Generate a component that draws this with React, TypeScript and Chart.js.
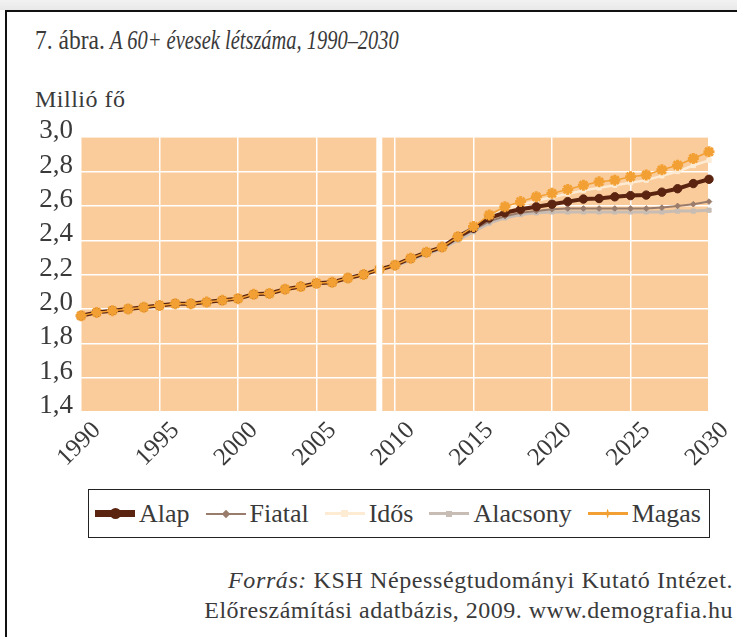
import React, { useEffect, useRef } from "react";
import { Chart, registerables } from "chart.js";

Chart.register(...registerables);

const years = [
  1990, 1991, 1992, 1993, 1994, 1995, 1996, 1997, 1998, 1999,
  2000, 2001, 2002, 2003, 2004, 2005, 2006, 2007, 2008, 2009,
  2010, 2011, 2012, 2013, 2014, 2015, 2016, 2017, 2018, 2019,
  2020, 2021, 2022, 2023, 2024, 2025, 2026, 2027, 2028, 2029, 2030,
];

const alap = [
  1.96, 1.98, 1.99, 2.0, 2.01, 2.02, 2.03, 2.03, 2.04, 2.05,
  2.06, 2.085, 2.09, 2.115, 2.13, 2.15, 2.155, 2.18, 2.2, 2.23,
  2.255, 2.295, 2.33, 2.36, 2.42, 2.47, 2.53, 2.56, 2.58, 2.595,
  2.61, 2.625, 2.64, 2.643, 2.653, 2.66, 2.663, 2.68, 2.7, 2.73, 2.755,
];

const fiatal = [
  1.96, 1.98, 1.99, 2.0, 2.01, 2.02, 2.03, 2.03, 2.04, 2.05,
  2.06, 2.085, 2.09, 2.115, 2.13, 2.15, 2.155, 2.18, 2.2, 2.23,
  2.255, 2.29, 2.325, 2.355, 2.41, 2.46, 2.51, 2.54, 2.56, 2.57,
  2.58, 2.585, 2.585, 2.585, 2.585, 2.585, 2.585, 2.59, 2.6, 2.61, 2.625,
];

const idos = [
  1.96, 1.98, 1.99, 2.0, 2.01, 2.02, 2.03, 2.03, 2.04, 2.05,
  2.06, 2.085, 2.09, 2.115, 2.13, 2.15, 2.155, 2.18, 2.2, 2.23,
  2.255, 2.295, 2.33, 2.36, 2.42, 2.48, 2.54, 2.58, 2.605, 2.63,
  2.65, 2.67, 2.69, 2.705, 2.72, 2.735, 2.75, 2.775, 2.8, 2.835, 2.865,
];

const alacsony = [
  1.96, 1.98, 1.99, 2.0, 2.01, 2.02, 2.03, 2.03, 2.04, 2.05,
  2.06, 2.085, 2.09, 2.115, 2.13, 2.15, 2.155, 2.18, 2.2, 2.23,
  2.25, 2.285, 2.32, 2.35, 2.4, 2.45, 2.5, 2.53, 2.55, 2.56,
  2.565, 2.565, 2.565, 2.565, 2.565, 2.565, 2.565, 2.565, 2.57, 2.57, 2.575,
];

const magas = [
  1.96, 1.98, 1.99, 2.0, 2.01, 2.02, 2.03, 2.03, 2.04, 2.05,
  2.06, 2.085, 2.09, 2.115, 2.13, 2.15, 2.155, 2.18, 2.2, 2.23,
  2.255, 2.295, 2.33, 2.36, 2.42, 2.48, 2.547, 2.595, 2.625, 2.653,
  2.673, 2.696, 2.72, 2.74, 2.75, 2.77, 2.78, 2.81, 2.837, 2.876, 2.915,
];

const seriesNames = ["Alap", "Fiatal", "Idős", "Alacsony", "Magas"];
const gapYear = 2009;

const PEACH = "#FACB9B";
const TEXT = "#3a3a3a";
const FONT = "'Liberation Serif', 'DejaVu Serif', serif";

const COLORS = {
  alap: "#5b2411",
  fiatal: "#9a7c6c",
  idos: "#fdebd4",
  alacsony: "#c7bdb4",
  magas: "#f2a033",
};

const bgPlugin = {
  id: "bgPlugin",
  beforeDraw(chart: any) {
    const { ctx, chartArea } = chart;
    ctx.save();
    ctx.fillStyle = PEACH;
    ctx.fillRect(chartArea.left, chartArea.top, chartArea.right - chartArea.left, chartArea.bottom - chartArea.top);
    ctx.restore();
  },
  afterDatasetsDraw(chart: any) {
    const { ctx, chartArea } = chart;
    const x = chart.scales.x.getPixelForValue(gapYear);
    ctx.save();
    ctx.fillStyle = "#ffffff";
    ctx.fillRect(x - 3, chartArea.top, 6, chartArea.bottom - chartArea.top);
    ctx.restore();
  },
};

function LegendSample({ kind }: { kind: string }) {
  const base: React.CSSProperties = { position: "relative", width: 40, height: 20, display: "inline-block", marginRight: 4 };
  let line: React.CSSProperties = {};
  let mark: React.CSSProperties = {};
  if (kind === "Alap") {
    line = { background: COLORS.alap, height: 7 };
    mark = { background: COLORS.alap, width: 11, height: 11, borderRadius: 6 };
  } else if (kind === "Fiatal") {
    line = { background: COLORS.fiatal, height: 2 };
    mark = { background: COLORS.fiatal, width: 6, height: 6, transform: "rotate(45deg)" };
  } else if (kind === "Idős") {
    line = { background: COLORS.idos, height: 3 };
    mark = { background: COLORS.idos, width: 7, height: 7 };
  } else if (kind === "Alacsony") {
    line = { background: COLORS.alacsony, height: 3 };
    mark = { background: COLORS.alacsony, width: 6, height: 6 };
  } else {
    line = { background: COLORS.magas, height: 2.5 };
    mark = { background: COLORS.magas, width: 10, height: 10, clipPath: "polygon(50% 0,62% 38%,100% 50%,62% 62%,50% 100%,38% 62%,0 50%,38% 38%)" };
  }
  const lh = (line.height as number) || 2;
  const mw = (mark.width as number) || 6;
  const mh = (mark.height as number) || 6;
  return (
    <span style={base}>
      <span style={{ position: "absolute", left: 0, right: 0, top: 10 - lh / 2, ...line }} />
      <span style={{ position: "absolute", left: 20 - mw / 2, top: 10 - mh / 2, ...mark }} />
    </span>
  );
}

export default function App() {
  const canvasRef = useRef<HTMLCanvasElement | null>(null);

  useEffect(() => {
    if (!canvasRef.current) return;
    const mk = (label: string, values: number[], color: string, extra: any) => ({
      label,
      data: years.map((y, i) => ({ x: y, y: values[i] })),
      borderColor: color,
      backgroundColor: color,
      pointBackgroundColor: color,
      pointBorderColor: color,
      tension: 0,
      clip: 10,
      ...extra,
    });
    const chart = new Chart(canvasRef.current, {
      type: "line",
      data: {
        datasets: [
          mk(seriesNames[0], alap, COLORS.alap, { borderWidth: 4, pointStyle: "circle", pointRadius: 4.2, pointBorderWidth: 1, order: 1 }),
          mk(seriesNames[1], fiatal, COLORS.fiatal, { borderWidth: 2, pointStyle: "rectRot", pointRadius: 2.8, pointBorderWidth: 1, order: 3 }),
          mk(seriesNames[2], idos, COLORS.idos, { borderWidth: 2.5, pointStyle: "rect", pointRadius: 3, pointBorderWidth: 1, order: 2 }),
          mk(seriesNames[3], alacsony, COLORS.alacsony, { borderWidth: 3, pointStyle: "rect", pointRadius: 3, pointBorderWidth: 1, order: 4 }),
          mk(seriesNames[4], magas, COLORS.magas, { borderWidth: 1.5, pointStyle: "star", pointRadius: 5.5, pointBorderWidth: 3, order: 0 }),
        ],
      },
      options: {
        animation: false,
        responsive: false,
        events: [],
        layout: { padding: { left: 0, right: 28, top: 0, bottom: 0 } },
        plugins: { legend: { display: false }, tooltip: { enabled: false } },
        scales: {
          x: {
            type: "linear",
            min: 1990,
            max: 2030,
            grid: { color: "#ffffff", lineWidth: 1.5, drawTicks: false },
            border: { display: false },
            ticks: {
              stepSize: 5,
              autoSkip: false,
              maxRotation: 45,
              minRotation: 45,
              padding: 4,
              labelOffset: 16,
              color: TEXT,
              font: { family: FONT, size: 25 },
              callback: (v: any) => String(v),
            },
            afterFit: (s: any) => {
              s.height = 73;
            },
          },
          y: {
            min: 1.4,
            max: 3.0,
            grid: { color: "#ffffff", lineWidth: 1.5, drawTicks: false },
            border: { display: false },
            ticks: {
              stepSize: 0.2,
              autoSkip: false,
              padding: 8,
              labelOffset: -6,
              color: TEXT,
              font: { family: FONT, size: 27 },
              callback: (v: any) => Number(v).toFixed(1).replace(".", ","),
            },
            afterFit: (s: any) => {
              s.width = 81;
            },
          },
        },
      },
      plugins: [bgPlugin],
    } as any);
    return () => chart.destroy();
  }, []);

  return (
    <div style={{ position: "absolute", left: 0, top: 0, width: 737, height: 637, background: "#fff", overflow: "hidden", fontFamily: FONT, color: TEXT }}>
      <div style={{ position: "absolute", left: 0, top: 0, width: 737, height: 10, background: "linear-gradient(#f2f2f2,#e8e8e8)" }} />
      <div style={{ position: "absolute", left: 5, top: 10, width: 732, height: 2, background: "#111" }} />
      <div style={{ position: "absolute", left: 5, top: 10, width: 2, height: 627, background: "#111" }} />
      <div style={{ position: "absolute", left: 35, top: 24, fontSize: 28, whiteSpace: "nowrap", transform: "scaleX(0.84)", transformOrigin: "left center" }}>
        7. ábra.
      </div>
      <div style={{ position: "absolute", left: 110, top: 24, fontSize: 28, whiteSpace: "nowrap", fontStyle: "italic", transform: "scaleX(0.73)", transformOrigin: "left center" }}>
        A 60+ évesek létszáma, 1990–2030
      </div>
      <div style={{ position: "absolute", left: 35, top: 86, fontSize: 24, letterSpacing: 0.5, whiteSpace: "nowrap" }}>Millió fő</div>
      <canvas ref={canvasRef} width={737} height={372} style={{ position: "absolute", left: 0, top: 113, width: 737, height: 372 }} />
      <div
        style={{
          position: "absolute",
          left: 88,
          top: 489,
          width: 622,
          height: 49,
          border: "1.5px solid #222",
          display: "flex",
          alignItems: "center",
          justifyContent: "space-between",
          padding: "0 8px 0 6px",
          boxSizing: "border-box",
          fontSize: 26,
        }}
      >
        {seriesNames.map((n) => (
          <span key={n} style={{ display: "inline-flex", alignItems: "center", whiteSpace: "nowrap" }}>
            <LegendSample kind={n} />
            {n}
          </span>
        ))}
      </div>
      <div style={{ position: "absolute", right: 4, top: 567, fontSize: 24, letterSpacing: 0.6, whiteSpace: "nowrap", textAlign: "right" }}>
        <i>Forrás:</i> KSH Népességtudományi Kutató Intézet.
      </div>
      <div style={{ position: "absolute", right: 4, top: 597, fontSize: 24, letterSpacing: 0.5, whiteSpace: "nowrap", textAlign: "right" }}>
        Előreszámítási adatbázis, 2009. www.demografia.hu
      </div>
    </div>
  );
}
